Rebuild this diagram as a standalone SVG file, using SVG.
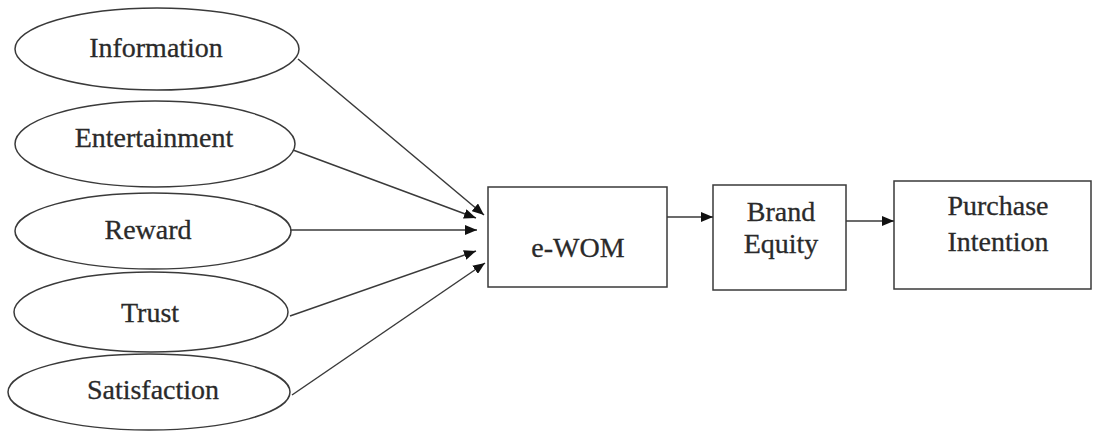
<svg xmlns="http://www.w3.org/2000/svg" width="1094" height="432" viewBox="0 0 1094 432">
<defs>
<style>
.node ellipse, .node rect { fill: #ffffff; stroke: #3a3a3a; stroke-width: 1.5; }
.lbl { font-family: "Liberation Serif", "Times New Roman", serif; font-size: 28px; fill: #2a2a2a; text-anchor: middle; stroke: #2a2a2a; stroke-width: 0.3; }
.conn line { stroke: #3a3a3a; stroke-width: 1.5; fill: none; }
</style>
<marker id="ah" viewBox="0 0 12 10" refX="12" refY="5" markerWidth="12" markerHeight="10" markerUnits="userSpaceOnUse" orient="auto">
<path d="M0,0 L12,5 L0,10 Z" fill="#111"/>
</marker>
</defs>
<rect width="1094" height="432" fill="#ffffff"/>
<g id="n-information" class="node">
<ellipse cx="157" cy="49" rx="142" ry="41"/>
<text class="lbl" x="156" y="57">Information</text>
</g>
<g id="n-entertainment" class="node">
<ellipse cx="155" cy="144" rx="140" ry="43"/>
<text class="lbl" x="154" y="147">Entertainment</text>
</g>
<g id="n-reward" class="node">
<ellipse cx="153" cy="231" rx="138" ry="38"/>
<text class="lbl" x="148" y="239">Reward</text>
</g>
<g id="n-trust" class="node">
<ellipse cx="151" cy="312" rx="137" ry="40"/>
<text class="lbl" x="150" y="322">Trust</text>
</g>
<g id="n-satisfaction" class="node">
<ellipse cx="149" cy="392" rx="141" ry="38"/>
<text class="lbl" x="153" y="399">Satisfaction</text>
</g>
<g id="n-ewom" class="node">
<rect x="488" y="187" width="179" height="100"/>
<text class="lbl" x="578" y="257">e-WOM</text>
</g>
<g id="n-brand" class="node">
<rect x="713" y="185" width="133" height="105"/>
<text class="lbl" x="781" y="221">Brand</text>
<text class="lbl" x="781" y="253">Equity</text>
</g>
<g id="n-purchase" class="node">
<rect x="894" y="181" width="197" height="108"/>
<text class="lbl" x="998" y="215">Purchase</text>
<text class="lbl" x="998" y="251">Intention</text>
</g>
<g id="connectors" class="conn">
<line x1="298" y1="59" x2="484" y2="215" marker-end="url(#ah)"/>
<line x1="293" y1="150" x2="476" y2="218" marker-end="url(#ah)"/>
<line x1="290" y1="230" x2="477" y2="230" marker-end="url(#ah)"/>
<line x1="290" y1="316" x2="476" y2="251" marker-end="url(#ah)"/>
<line x1="292" y1="395" x2="485" y2="263" marker-end="url(#ah)"/>
<line x1="667" y1="217" x2="713" y2="217" marker-end="url(#ah)"/>
<line x1="846" y1="221" x2="894" y2="221" marker-end="url(#ah)"/>
</g>
</svg>
